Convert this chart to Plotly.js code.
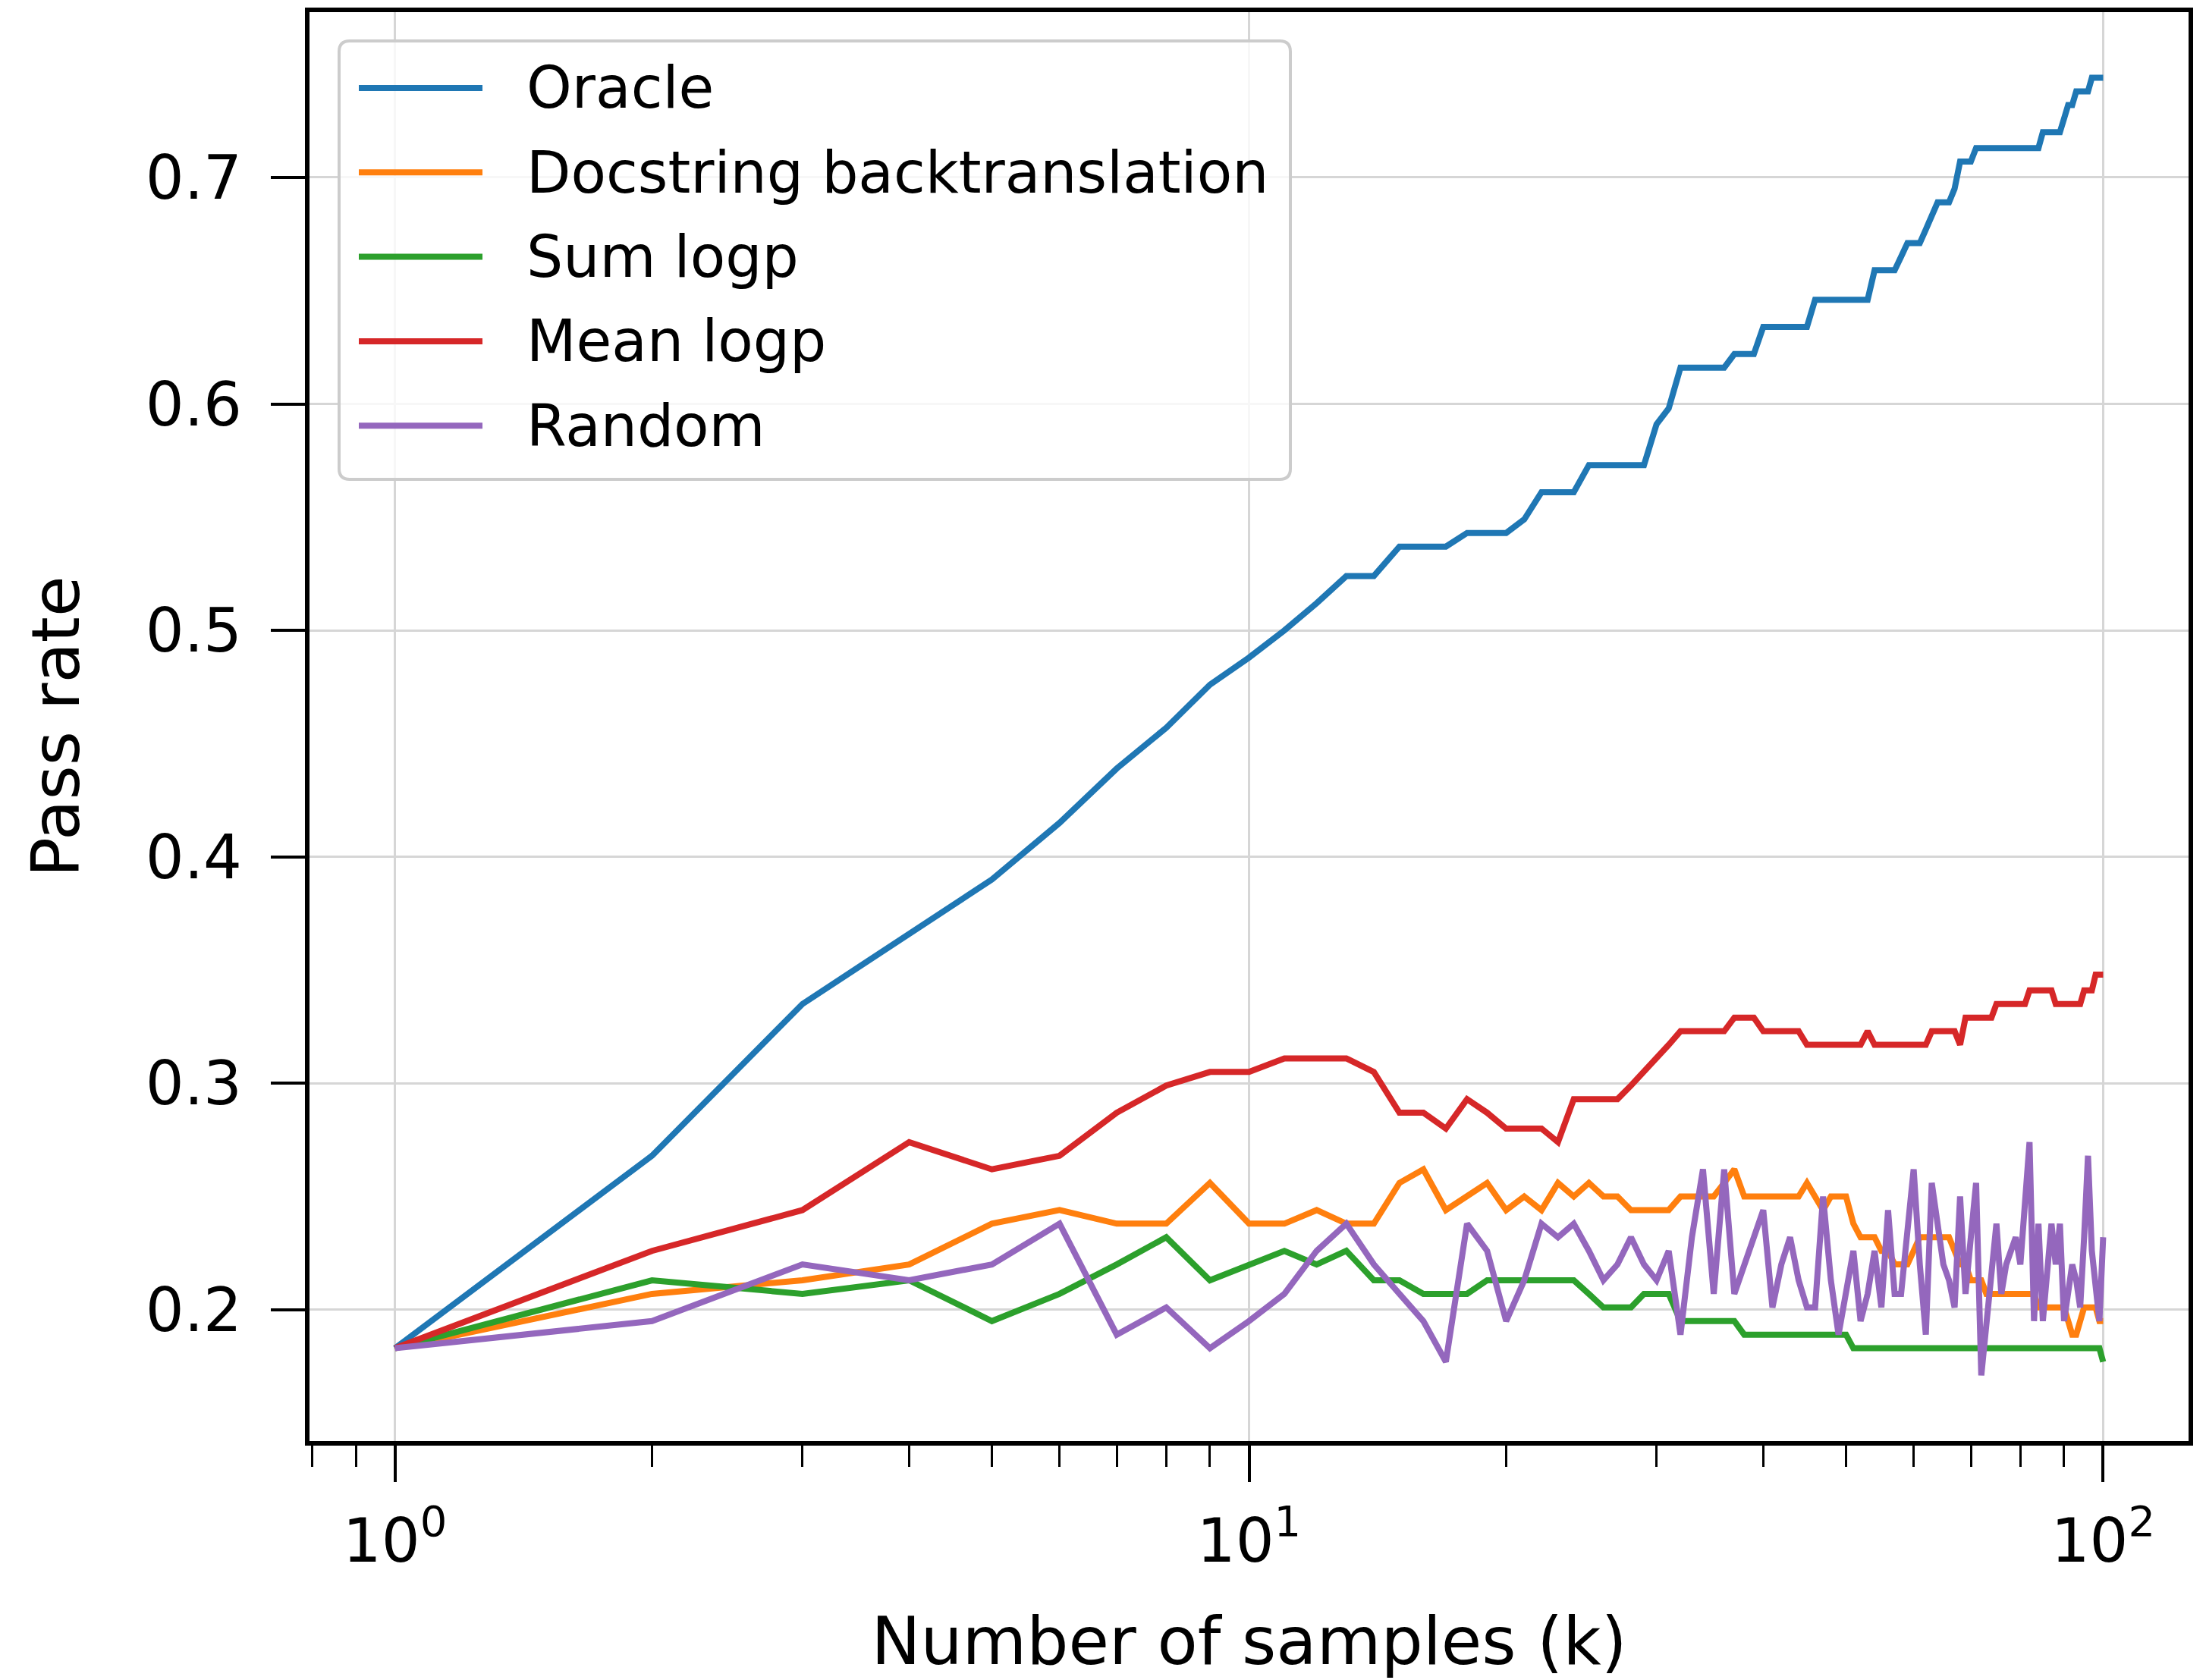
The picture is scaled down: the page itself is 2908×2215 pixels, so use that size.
<!DOCTYPE html>
<html>
<head>
<meta charset="utf-8">
<script src="https://cdn.plot.ly/plotly-3.0.1.min.js"></script>
<style>html,body{margin:0;padding:0;background:#fff;}#chart{width:2908px;height:2215px;}</style>
</head>
<body>
<div id="chart"></div>
<script>
// ---- data ----
const samplesK = [1,2,3,4,5,6,7,8,9,10,11,12,13,14,15,16,17,18,19,20,21,22,23,24,25,26,27,28,29,30,31,32,33,34,35,36,37,38,39,40,41,42,43,44,45,46,47,48,49,50,51,52,53,54,55,56,57,58,59,60,61,62,63,64,65,66,67,68,69,70,71,72,73,74,75,76,77,78,79,80,81,82,83,84,85,86,87,88,89,90,91,92,93,94,95,96,97,98,99,100];

const oracle = [0.183,0.268,0.335,0.366,0.390,0.415,0.439,0.457,0.476,0.488,
0.500,0.512,0.524,0.524,0.537,0.537,0.537,0.543,0.543,0.543,
0.549,0.561,0.561,0.561,0.573,0.573,0.573,0.573,0.573,0.591,
0.598,0.616,0.616,0.616,0.616,0.616,0.622,0.622,0.622,0.634,
0.634,0.634,0.634,0.634,0.634,0.646,0.646,0.646,0.646,0.646,
0.646,0.646,0.646,0.659,0.659,0.659,0.659,0.665,0.671,0.671,
0.671,0.677,0.683,0.689,0.689,0.689,0.695,0.707,0.707,0.707,
0.713,0.713,0.713,0.713,0.713,0.713,0.713,0.713,0.713,0.713,
0.713,0.713,0.713,0.713,0.720,0.720,0.720,0.720,0.720,0.726,
0.732,0.732,0.738,0.738,0.738,0.738,0.744,0.744,0.744,0.744];

const docstringBacktranslation = [0.183,0.207,0.213,0.220,0.238,0.244,0.238,0.238,0.256,0.238,
0.238,0.244,0.238,0.238,0.256,0.262,0.244,0.250,0.256,0.244,
0.250,0.244,0.256,0.250,0.256,0.250,0.250,0.244,0.244,0.244,
0.244,0.250,0.250,0.250,0.250,0.256,0.262,0.250,0.250,0.250,
0.250,0.250,0.250,0.250,0.256,0.250,0.244,0.250,0.250,0.250,
0.238,0.232,0.232,0.232,0.226,0.226,0.220,0.220,0.220,0.226,
0.232,0.232,0.232,0.232,0.232,0.232,0.226,0.220,0.220,0.213,
0.213,0.213,0.207,0.207,0.207,0.207,0.207,0.207,0.207,0.207,
0.207,0.207,0.207,0.201,0.201,0.201,0.201,0.201,0.201,0.201,
0.195,0.189,0.189,0.195,0.201,0.201,0.201,0.201,0.195,0.195];

const sumLogp = [0.183,0.213,0.207,0.213,0.195,0.207,0.220,0.232,0.213,0.220,
0.226,0.220,0.226,0.213,0.213,0.207,0.207,0.207,0.213,0.213,
0.213,0.213,0.213,0.213,0.207,0.201,0.201,0.201,0.207,0.207,
0.207,0.195,0.195,0.195,0.195,0.195,0.195,0.189,0.189,0.189,
0.189,0.189,0.189,0.189,0.189,0.189,0.189,0.189,0.189,0.189,
0.183,0.183,0.183,0.183,0.183,0.183,0.183,0.183,0.183,0.183,
0.183,0.183,0.183,0.183,0.183,0.183,0.183,0.183,0.183,0.183,
0.183,0.183,0.183,0.183,0.183,0.183,0.183,0.183,0.183,0.183,
0.183,0.183,0.183,0.183,0.183,0.183,0.183,0.183,0.183,0.183,
0.183,0.183,0.183,0.183,0.183,0.183,0.183,0.183,0.183,0.177];

const meanLogp = [0.183,0.226,0.244,0.274,0.262,0.268,0.287,0.299,0.305,0.305,
0.311,0.311,0.311,0.305,0.287,0.287,0.280,0.293,0.287,0.280,
0.280,0.280,0.274,0.293,0.293,0.293,0.293,0.299,0.305,0.311,
0.317,0.323,0.323,0.323,0.323,0.323,0.329,0.329,0.329,0.323,
0.323,0.323,0.323,0.323,0.317,0.317,0.317,0.317,0.317,0.317,
0.317,0.317,0.323,0.317,0.317,0.317,0.317,0.317,0.317,0.317,
0.317,0.317,0.323,0.323,0.323,0.323,0.323,0.317,0.329,0.329,
0.329,0.329,0.329,0.329,0.335,0.335,0.335,0.335,0.335,0.335,
0.335,0.341,0.341,0.341,0.341,0.341,0.341,0.335,0.335,0.335,
0.335,0.335,0.335,0.335,0.341,0.341,0.341,0.348,0.348,0.348];

const randomPick = [0.183,0.195,0.220,0.213,0.220,0.238,0.189,0.201,0.183,0.195,
0.207,0.226,0.238,0.220,0.207,0.195,0.177,0.238,0.226,0.195,
0.213,0.238,0.232,0.238,0.226,0.213,0.220,0.232,0.220,0.213,
0.226,0.189,0.232,0.262,0.207,0.262,0.207,0.220,0.232,0.244,
0.201,0.220,0.232,0.213,0.201,0.201,0.250,0.213,0.189,0.207,
0.226,0.195,0.207,0.226,0.201,0.244,0.207,0.207,0.232,0.262,
0.220,0.189,0.256,0.238,0.220,0.213,0.201,0.250,0.207,0.232,
0.256,0.171,0.195,0.220,0.238,0.207,0.220,0.226,0.232,0.220,
0.244,0.274,0.195,0.238,0.195,0.220,0.238,0.220,0.238,0.195,
0.207,0.220,0.213,0.201,0.232,0.268,0.226,0.213,0.195,0.232];

const seriesNames = ['Oracle','Docstring backtranslation','Sum logp','Mean logp','Random'];
const seriesValues = [oracle, docstringBacktranslation, sumLogp, meanLogp, randomPick];
const seriesColors = ['#1f77b4','#ff7f0e','#2ca02c','#d62728','#9467bd'];

const xTickVals = [1,10,100];
const xTickText = ['10<sup>0</sup>','10<sup>1</sup>','10<sup>2</sup>'];
const yTickVals = [0.2,0.3,0.4,0.5,0.6,0.7];
const xTitle = 'Number of samples (k)';
const yTitle = 'Pass rate';

// ---- layout geometry ----
const FIG_W = 2908, FIG_H = 2215;
const M = {l:408, r:23, t:16, b:315};
const PW = FIG_W - M.l - M.r, PH = FIG_H - M.t - M.b;
const FONT = 'DejaVu Sans';
const LINE_W = 8;
const px = x => (x - M.l) / PW;          // figure px -> paper x
const py = y => (FIG_H - M.b - y) / PH;  // figure px -> paper y

const traces = seriesNames.map((name, i) => ({
  type: 'scatter', mode: 'lines', name: name,
  x: samplesK, y: seriesValues[i],
  line: {color: seriesColors[i], width: LINE_W},
  showlegend: false, hoverinfo: 'skip'
}));

// minor ticks for the log axis
const minorVals = [];
for (let d = -1; d <= 2; d++) {
  for (let m = 2; m <= 9; m++) {
    const v = m * Math.pow(10, d);
    const lv = Math.log10(v);
    if (lv >= -0.1 && lv <= 2.1) minorVals.push(v);
  }
}

// legend drawn in matplotlib style
const shapes = [];
const annotations = [];
const box = {x0: 447, x1: 1701, y0: 54, y1: 632, r: 14};
const bx0 = px(box.x0), bx1 = px(box.x1), by0 = py(box.y1), by1 = py(box.y0);
const rx = box.r / PW, ry = box.r / PH;
shapes.push({
  type: 'path', xref: 'paper', yref: 'paper', layer: 'above',
  path: `M ${bx0+rx},${by0} L ${bx1-rx},${by0} Q ${bx1},${by0} ${bx1},${by0+ry} L ${bx1},${by1-ry} Q ${bx1},${by1} ${bx1-rx},${by1} L ${bx0+rx},${by1} Q ${bx0},${by1} ${bx0},${by1-ry} L ${bx0},${by0+ry} Q ${bx0},${by0} ${bx0+rx},${by0} Z`,
  fillcolor: 'rgba(255,255,255,0.8)',
  line: {color: '#cccccc', width: 4}
});
const rowY0 = 116, rowStep = 111.3;
seriesNames.forEach((name, i) => {
  const yy = py(rowY0 + i * rowStep);
  shapes.push({
    type: 'line', xref: 'paper', yref: 'paper', layer: 'above',
    x0: px(473), x1: px(636), y0: yy, y1: yy,
    line: {color: seriesColors[i], width: LINE_W}
  });
  annotations.push({
    xref: 'paper', yref: 'paper', x: px(692), y: yy,
    xanchor: 'left', yanchor: 'middle', showarrow: false,
    text: name, font: {family: FONT, size: 76, color: '#000'}
  });
});

const layout = {
  width: FIG_W, height: FIG_H,
  margin: M,
  paper_bgcolor: '#ffffff', plot_bgcolor: '#ffffff',
  font: {family: FONT, color: '#000'},
  showlegend: false,
  xaxis: {
    type: 'log', range: [-0.1, 2.1],
    tickmode: 'array', tickvals: xTickVals, ticktext: xTickText,
    ticks: 'outside', ticklen: 48, tickwidth: 4, tickcolor: '#000',
    tickfont: {family: FONT, size: 80, color: '#000'},
    ticklabelstandoff: 9,
    showline: true, linewidth: 6, linecolor: '#000', mirror: true,
    showgrid: true, gridcolor: '#d6d6d6', gridwidth: 3,
    zeroline: false,
    minor: {tickmode: 'array', tickvals: minorVals, ticks: 'outside', ticklen: 28, tickwidth: 3, tickcolor: '#000', showgrid: false},
    title: {text: xTitle, font: {family: FONT, size: 87, color: '#000'}, standoff: 70},
    automargin: false
  },
  yaxis: {
    range: [0.142, 0.773],
    tickmode: 'array', tickvals: yTickVals, tickformat: '.1f',
    ticks: 'outside', ticklen: 45, tickwidth: 4, tickcolor: '#000',
    tickfont: {family: FONT, size: 80, color: '#000'},
    ticklabelstandoff: 22,
    showline: true, linewidth: 6, linecolor: '#000', mirror: true,
    showgrid: true, gridcolor: '#d6d6d6', gridwidth: 3,
    zeroline: false,
    title: {text: yTitle, font: {family: FONT, size: 87, color: '#000'}, standoff: 60},
    automargin: false
  },
  shapes: shapes,
  annotations: annotations
};

Plotly.newPlot('chart', traces, layout, {staticPlot: true, displayModeBar: false});
</script>
</body>
</html>
